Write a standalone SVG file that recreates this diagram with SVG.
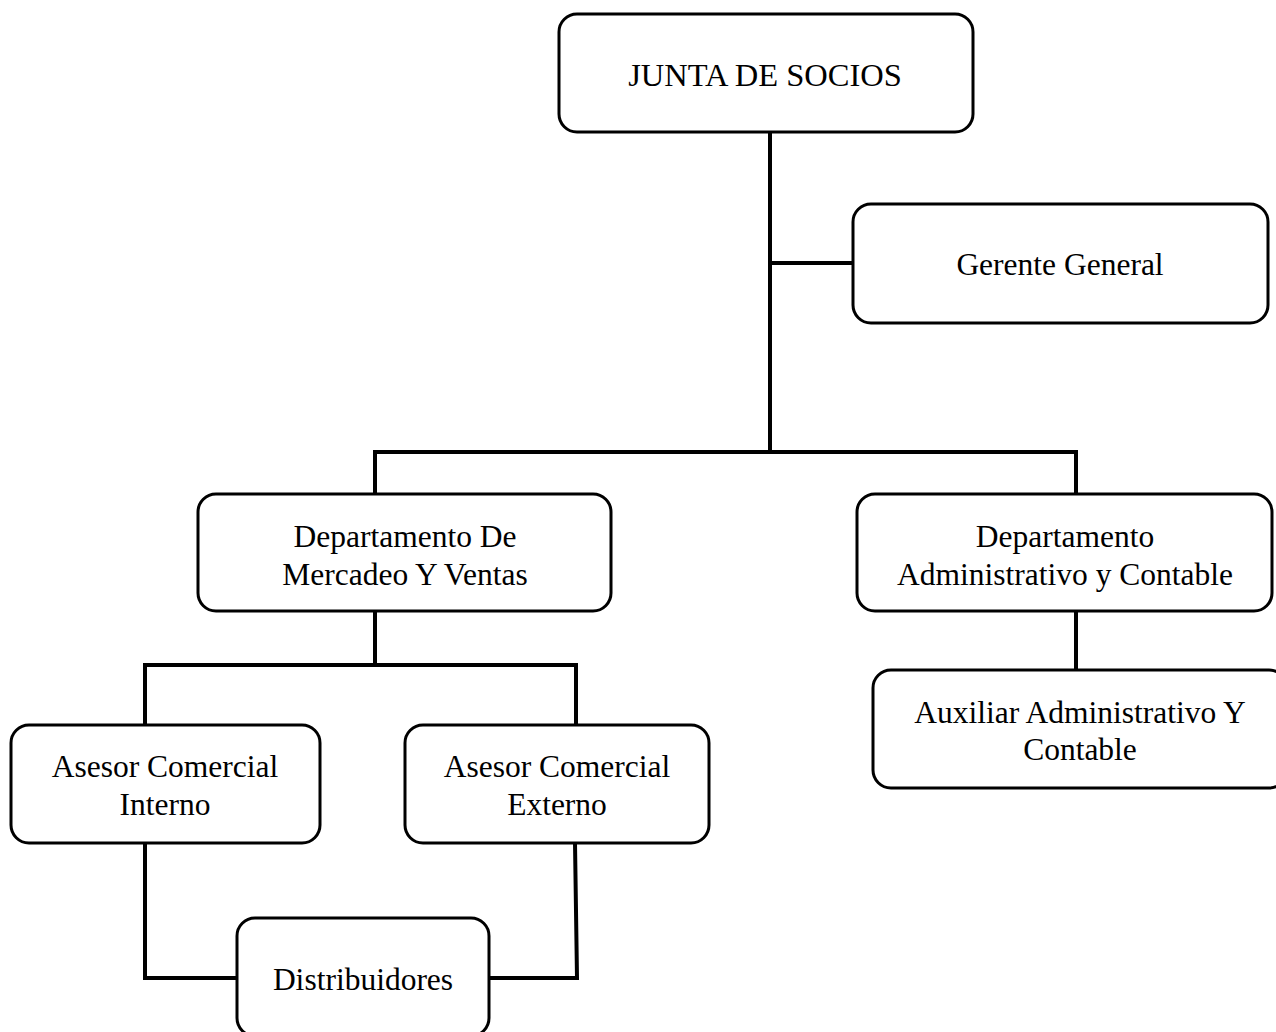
<svg xmlns="http://www.w3.org/2000/svg" width="1276" height="1032" viewBox="0 0 1276 1032">
<style>
.box{fill:#fff;stroke:#000;stroke-width:3}
.t{font-family:"Liberation Serif","Times New Roman",serif;font-size:31.5px;fill:#000;text-anchor:middle}
.c{fill:none;stroke:#000;stroke-width:4}
</style>
<rect width="1276" height="1032" fill="#fff"/>
<g id="connectors">
<path class="c" d="M770 132V452"/>
<path class="c" d="M770 263H853"/>
<path class="c" d="M375 494V452H1076V494"/>
<path class="c" d="M375 611V665"/>
<path class="c" d="M145 725V665H576V725"/>
<path class="c" d="M1076 611V670"/>
<path class="c" d="M145 843V978H237"/>
<path class="c" d="M575 843L577 978H489"/>
</g>
<g id="junta"><rect class="box" x="559" y="14" width="414" height="118" rx="18"/><text class="t" x="765" y="86" style="font-size:32.5px">JUNTA DE SOCIOS</text></g>
<g id="gerente"><rect class="box" x="853" y="204" width="415" height="119" rx="18"/><text class="t" x="1060" y="275">Gerente General</text></g>
<g id="mercadeo"><rect class="box" x="198" y="494" width="413" height="117" rx="18"/><text class="t" x="405" y="547">Departamento De</text><text class="t" x="405" y="585">Mercadeo Y Ventas</text></g>
<g id="administrativo"><rect class="box" x="857" y="494" width="415" height="117" rx="18"/><text class="t" x="1065" y="547">Departamento</text><text class="t" x="1065" y="585">Administrativo y Contable</text></g>
<g id="auxiliar"><rect class="box" x="873" y="670" width="414" height="118" rx="18"/><text class="t" x="1080" y="723">Auxiliar Administrativo Y</text><text class="t" x="1080" y="760">Contable</text></g>
<g id="interno"><rect class="box" x="11" y="725" width="309" height="118" rx="18"/><text class="t" x="165" y="777">Asesor Comercial</text><text class="t" x="165" y="815">Interno</text></g>
<g id="externo"><rect class="box" x="405" y="725" width="304" height="118" rx="18"/><text class="t" x="557" y="777">Asesor Comercial</text><text class="t" x="557" y="815">Externo</text></g>
<g id="distribuidores"><rect class="box" x="237" y="918" width="252" height="118" rx="18"/><text class="t" x="363" y="990">Distribuidores</text></g>
</svg>
